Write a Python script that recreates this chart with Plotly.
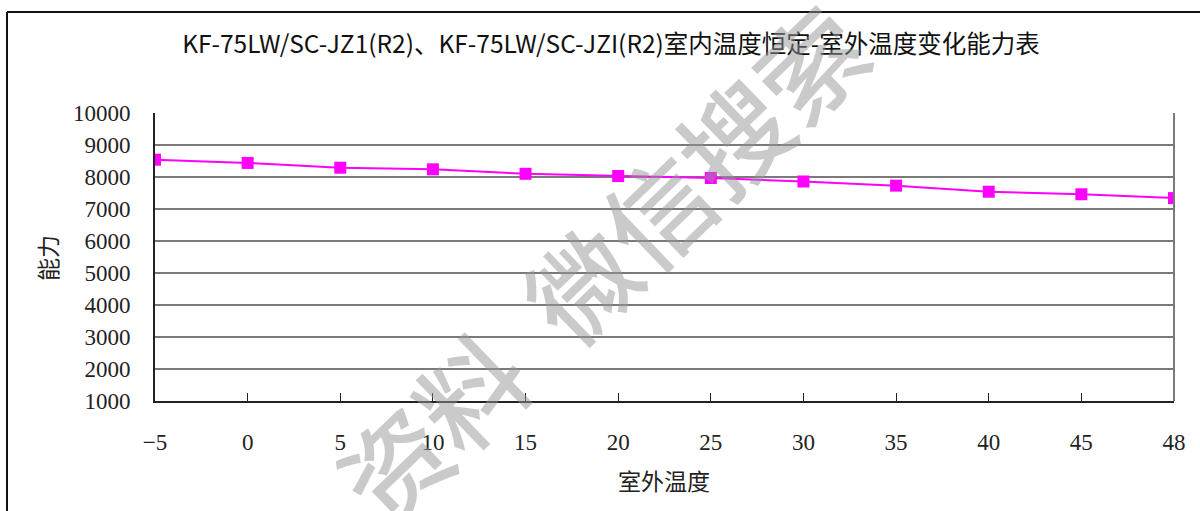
import plotly.graph_objects as go

# Outdoor temperature categories (°C) and heating capacity (W)
outdoor_temp = ["−5", "0", "5", "10", "15", "20", "25", "30", "35", "40", "45", "48"]
capacity = [8540, 8440, 8290, 8240, 8100, 8030, 7970, 7860, 7730, 7540, 7460, 7340]

y_ticks = [1000, 2000, 3000, 4000, 5000, 6000, 7000, 8000, 9000, 10000]
y_tick_text = ["1000", "2000", "3000", "4000", "5000", "6000", "7000", "8000", "9000", "10000"]

title_text = "KF-75LW/SC-JZ1(R2)、KF-75LW/SC-JZI(R2)室内温度恒定-室外温度变化能力表"
x_title = "室外温度"
y_title = "能力"
watermark = "资料  微信搜索"

W, H = 1200, 511
L, R, T, B = 155, 26, 113, 110
plot_w = W - L - R
plot_h = H - T - B


def px_to_paper(px, py):
    return (px - L) / plot_w, (H - B - py) / plot_h


serif = "Liberation Serif"
cjk = "Noto Sans CJK SC"

fig = go.Figure()
fig.add_trace(go.Scatter(
    x=outdoor_temp,
    y=capacity,
    mode="lines+markers",
    line=dict(color="#FF00FF", width=2),
    marker=dict(symbol="square", size=12, color="#FF00FF"),
    showlegend=False,
))

fx0, fy0 = px_to_paper(7, 12)
fx1, fy1 = px_to_paper(1200, 511)
wx, wy = px_to_paper(600, 262)
ax_x, ax_y = px_to_paper(664, 480)
ay_x, ay_y = px_to_paper(47, 258)

fig.update_layout(
    width=W, height=H, autosize=False,
    margin=dict(l=L, r=R, t=T, b=B),
    paper_bgcolor="white", plot_bgcolor="white",
    title=dict(
        text=title_text,
        x=611 / W, xref="container", xanchor="center",
        y=1 - 44 / H, yref="container", yanchor="middle",
        font=dict(family=cjk, size=24.5, color="#111"),
    ),
    xaxis=dict(
        type="category",
        range=[0, len(outdoor_temp) - 1],
        showgrid=False,
        showline=True, linecolor="#222", linewidth=2,
        ticks="inside", ticklen=8, tickcolor="#222", tickwidth=1,
        tickfont=dict(family=serif, size=23, color="#222"),
        ticklabelstandoff=19,
        zeroline=False,
    ),
    yaxis=dict(
        range=[1000, 10000],
        tickvals=y_ticks,
        ticktext=y_tick_text,
        showgrid=True, gridcolor="#7a7a7a", gridwidth=1.5,
        showline=True, linecolor="#222", linewidth=2,
        ticks="",
        tickfont=dict(family=serif, size=23, color="#222"),
        ticklabelstandoff=18,
        zeroline=False,
    ),
    shapes=[
        # right border of the plot area
        dict(type="line", xref="paper", yref="paper", x0=1, x1=1, y0=0, y1=1,
             line=dict(color="#7a7a7a", width=2)),
        # outer chart frame
        dict(type="line", xref="paper", yref="paper", x0=fx0, x1=fx1, y0=fy0, y1=fy0,
             line=dict(color="#111", width=2)),
        dict(type="line", xref="paper", yref="paper", x0=fx0, x1=fx0, y0=fy0, y1=fy1,
             line=dict(color="#111", width=2)),
    ],
    annotations=[
        dict(text=x_title, xref="paper", yref="paper", x=ax_x, y=ax_y,
             xanchor="center", yanchor="middle", showarrow=False,
             font=dict(family=cjk, size=23, color="#222")),
        dict(text=y_title, xref="paper", yref="paper", x=ay_x, y=ay_y,
             xanchor="center", yanchor="middle", showarrow=False, textangle=-90,
             font=dict(family=cjk, size=23, color="#222")),
        dict(text=watermark, xref="paper", yref="paper", x=wx, y=wy,
             xanchor="center", yanchor="middle", showarrow=False, textangle=-44,
             font=dict(family=cjk, size=106, weight=500, color="rgba(150,150,150,0.5)")),
    ],
)

fig.write_html("out.html")
